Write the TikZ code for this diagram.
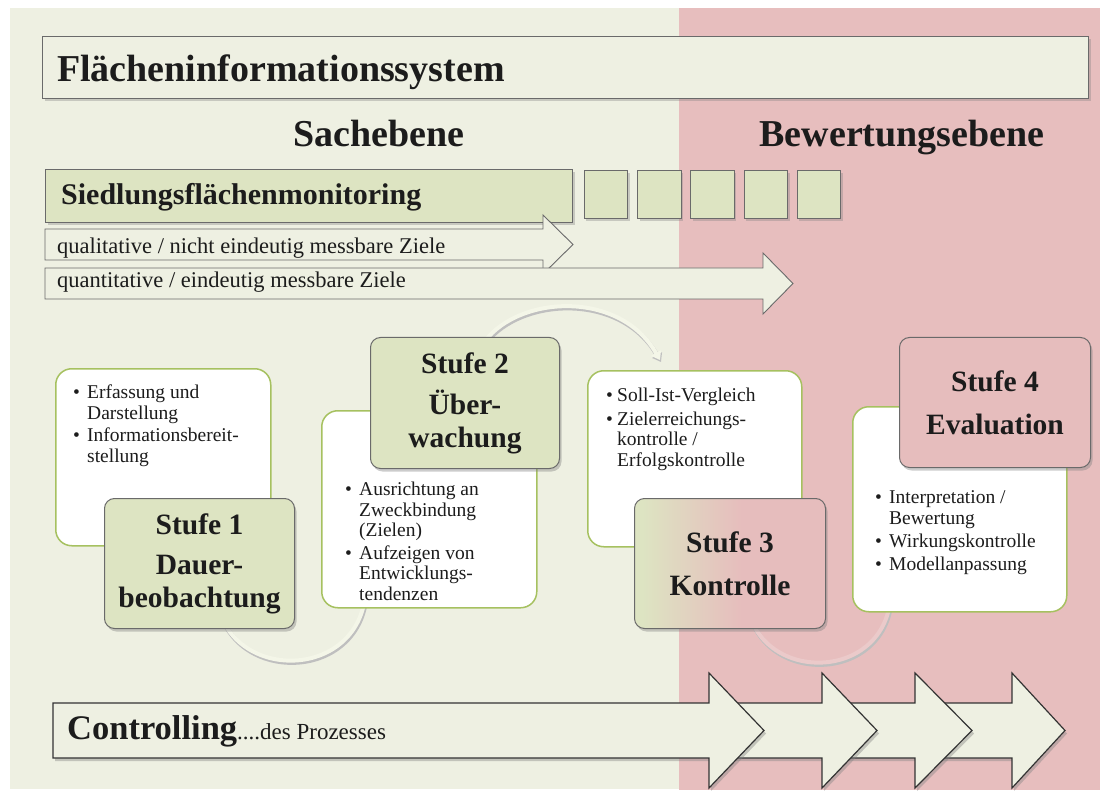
\documentclass[tikz,border=0pt]{standalone}
\usepackage{fontspec}
\setmainfont{Liberation Serif}
\usepackage{tikz}
\usetikzlibrary{positioning,arrows.meta,shadows}
\definecolor{bggreen}{HTML}{EEF0E2}
\definecolor{bgpink}{HTML}{E7BEBE}
\definecolor{boxgreen}{HTML}{DDE4C2}
\definecolor{boxpink}{HTML}{E6BDBD}
\definecolor{infoline}{HTML}{A6C160}
\definecolor{frame}{HTML}{6A6A6A}
\definecolor{ink}{HTML}{1C1C1C}
\definecolor{ringgreen}{HTML}{F4F6E8}
\definecolor{ringpink}{HTML}{EBCACA}
\newcommand{\bul}{\makebox[14pt][l]{\textbullet}}
\newcommand{\ein}{\hspace*{14pt}}
\pgfdeclarelayer{bg}
\pgfdeclarelayer{rings}
\pgfsetlayers{bg,rings,main}
\pgfdeclarehorizontalshading{greenpink}{100bp}{color(0bp)=(boxgreen); color(27bp)=(boxgreen); color(53bp)=(boxpink); color(100bp)=(boxpink)}

\begin{document}
\begin{tikzpicture}[x=1pt, y=-1pt,
  bar/.style={draw=frame, line width=1pt, fill=#1, anchor=north west, inner sep=0pt, drop shadow={shadow xshift=2pt, shadow yshift=-3pt, opacity=.35}},
  sq/.style={bar=boxgreen, minimum width=43.5pt, minimum height=48pt},
  info/.style={draw=infoline, line width=1.5pt, fill=white!99!bggreen, rounded corners=16pt, anchor=north west, inner sep=0pt},
  stufe/.style={draw=frame, line width=1pt, fill=#1, rounded corners=10pt, anchor=north west, inner sep=0pt, align=center, text=ink, font=\fontsize{29.5pt}{33pt}\selectfont\bfseries, drop shadow={shadow xshift=2pt, shadow yshift=-3pt, opacity=.4}},
  list/.style={anchor=base west, align=left, inner sep=0pt, text=ink, font=\fontsize{19.5pt}{20.5pt}\selectfont},
  head/.style={anchor=base, inner sep=0pt, text=ink, font=\fontsize{38pt}{40pt}\selectfont\bfseries},
  lbl/.style={anchor=base west, inner sep=0pt, text=ink, font=\fontsize{22.5pt}{24pt}\selectfont},
  goal/.style={draw=frame, line width=.9pt, fill=bggreen},
  ctrl/.style={draw=black!80, line width=1.2pt, fill=bggreen, drop shadow={shadow xshift=2pt, shadow yshift=-3pt, opacity=.4}},
  ring/.style={line width=4pt, draw=#1, preaction={draw=black!25, line width=4.5pt, transform canvas={xshift=1pt, yshift=-2pt}}}
]
\useasboundingbox (0,0) rectangle (1105,791);
\begin{pgfonlayer}{bg}
\fill[bggreen] (10,8) rectangle (679,789);
\fill[bgpink] (679,8) rectangle (1100,790);
\end{pgfonlayer}

\node[bar=bggreen, minimum width=1046pt, minimum height=62pt] (sys) at (42,36) {};
\node[head, anchor=base west] (systxt) at (57,82) {Flächeninformationssystem};
\node[head] (sach) at (379,147) {Sachebene};
\node[head] (bew) at (902,147) {Bewertungsebene};

\node[bar=boxgreen, minimum width=527pt, minimum height=53pt] (mon) at (45,169) {};
\node[anchor=base west, inner sep=0pt, text=ink, font=\fontsize{30pt}{32pt}\selectfont\bfseries] (montxt) at (61,205) {Siedlungsflächenmonitoring};
\foreach \i in {1,...,5}
  \node[sq] (q\i) at ({530.5+53.25*\i},170) {};

\draw[goal] (45,229) -- (543,229) -- (543,215) -- (573,244.5) -- (543,274) -- (543,260) -- (45,260) -- cycle;
\node[lbl] (qual) at (57,254) {qualitative / nicht eindeutig messbare Ziele};
\draw[goal] (45,268) -- (763,268) -- (763,253) -- (793,283.5) -- (763,314) -- (763,299) -- (45,299) -- cycle;
\node[lbl] (quan) at (57,288) {quantitative / eindeutig messbare Ziele};

\node[info, minimum width=215pt, minimum height=177pt] (t1) at (55,368) {};
\node[list] (l1) at (73,462) {\bul Erfassung und\\\ein Darstellung\\[2pt]\bul Informationsbereit-\\\ein stellung};
\node[stufe=boxgreen, minimum width=190pt, minimum height=130pt] (s1) at (104,498) {Stufe 1\\[7pt]Dauer-\\beobachtung};

\node[info, minimum width=215pt, minimum height=197pt] (t2) at (321,410) {};
\node[list] (l2) at (345,600) {\bul Ausrichtung an\\\ein Zweckbindung\\\ein (Zielen)\\[2pt]\bul Aufzeigen von\\\ein Entwicklungs-\\\ein tendenzen};
\node[stufe=boxgreen, minimum width=189pt, minimum height=131pt] (s2) at (370,337) {Stufe 2\\[8pt]Über-\\wachung};

\node[info, minimum width=214pt, minimum height=176pt] (t3) at (587,370) {};
\node[list] (l3) at (606,466) {\makebox[11pt][l]{\textbullet}Soll-Ist-Vergleich\\[3.5pt]\makebox[11pt][l]{\textbullet}Zielerreichungs-\\\hspace*{11pt}kontrolle /\\\hspace*{11pt}Erfolgskontrolle};
\node[stufe=boxpink, shading=greenpink, minimum width=191pt, minimum height=130pt] (s3) at (634,498) {Stufe 3\\[10pt]Kontrolle};

\node[info, minimum width=214pt, minimum height=205pt] (t4) at (852,406) {};
\node[list] (l4) at (875,570) {\bul Interpretation /\\\ein Bewertung\\[2.5pt]\bul Wirkungskontrolle\\[2.5pt]\bul Modellanpassung};
\node[stufe=boxpink, minimum width=191pt, minimum height=130pt] (s4) at (899,337) {Stufe 4\\[10pt]Evaluation};

\begin{pgfonlayer}{rings}
\draw[ring=ringgreen] ([shift={(16,22)}]s1.center) .. controls +(0,100) and +(0,100) .. ([shift={(-63.5,76.5)}]t2.center);
\draw[ring=ringgreen, -{Triangle[length=8pt, width=11pt]}] ([shift={(20,4)}]s2.north) .. controls +(35,-46) and +(-40,-70) .. ([shift={(73,-10)}]t3.north west);
\draw[ring=ringpink] ([shift={(16,27)}]s3.center) .. controls +(0,96) and +(0,96) .. ([shift={(-69,81.5)}]t4.center);
\end{pgfonlayer}

\foreach \l/\b/\t in {925/1012/1065, 830/915/972, 717/822/877, 53/709/764}
  \draw[ctrl] (\l,703) -- (\b,703) -- (\b,673) -- (\t,730.5) -- (\b,788) -- (\b,758) -- (\l,758) -- cycle;
\node[anchor=base west, inner sep=0pt, text=ink] (ctl) at (67,739) {{\fontsize{34.5pt}{36pt}\selectfont\bfseries Controlling}{\fontsize{23pt}{25pt}\selectfont....des Prozesses}};
\end{tikzpicture}
\end{document}
